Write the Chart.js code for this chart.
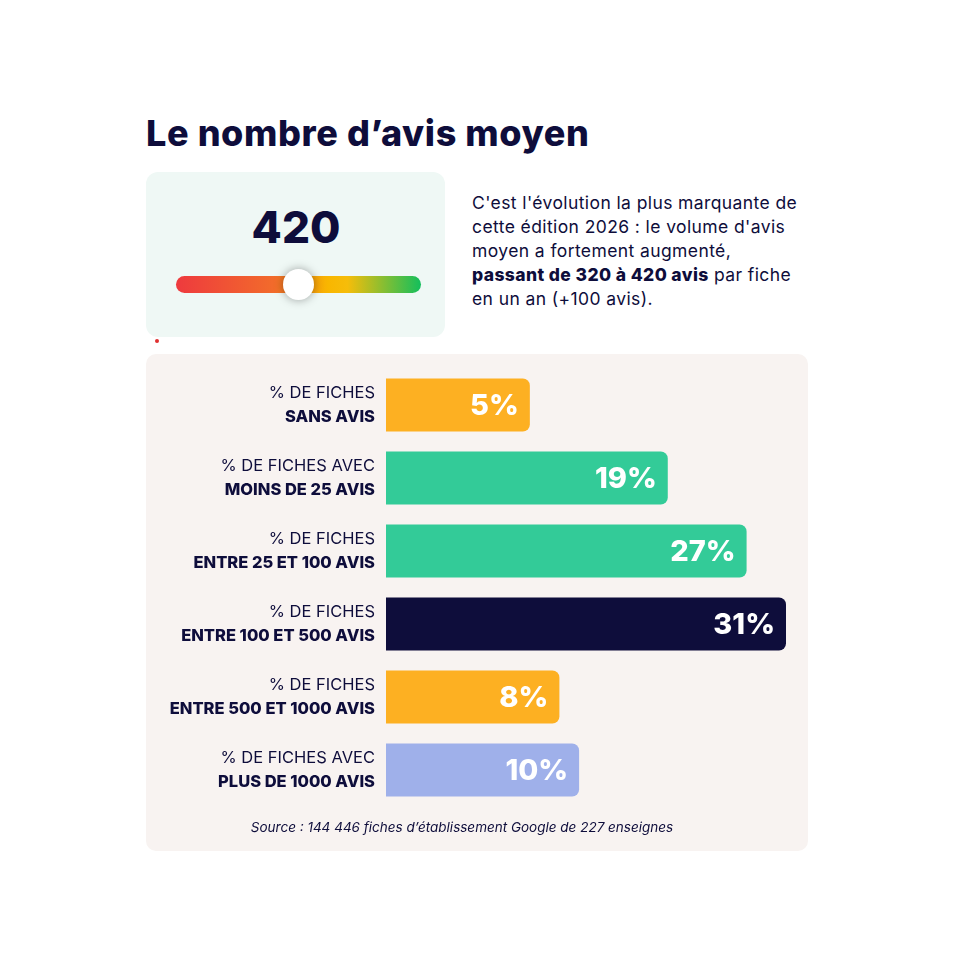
<!DOCTYPE html>
<html lang="fr">
<head>
<meta charset="utf-8">
<script src="https://cdn.jsdelivr.net/npm/chart.js@4.4.1/dist/chart.umd.min.js"></script>
<style>
  body { margin: 0; background: #fff; font-family: Inter, "Noto Sans", sans-serif; color: #0e0d3b; }
  #page { position: relative; width: 960px; height: 960px; }
  h1 { position: absolute; left: 146px; top: 111px; margin: 0; font-size: 36px; font-weight: 800; letter-spacing: 0.6px; }
  #gaugeBox { position: absolute; left: 146px; top: 172px; width: 299px; height: 165px; background: #eff8f5; border-radius: 12px; }
  #bigNum { position: absolute; left: 146px; width: 300px; top: 200px; text-align: center; font-size: 44px; font-weight: 800; }
  #gauge { position: absolute; left: 176px; top: 276px; width: 245px; height: 17px; border-radius: 9px;
    background: linear-gradient(90deg, #ee3a3e 0%, #f26b2b 40%, #f9b600 62%, #f6bd0a 70%, #13bf5c 100%); }
  #knob { position: absolute; left: 283px; top: 269px; width: 31px; height: 31px; border-radius: 50%; background: #fff;
    box-shadow: 0 0 10px rgba(0,0,0,0.35); }
  #dot { position: absolute; left: 155px; top: 339px; width: 4px; height: 4px; border-radius: 50%; background: #e03030; }
  #desc { position: absolute; left: 472px; top: 191px; width: 400px; font-size: 17.5px; line-height: 24px; letter-spacing: 0.4px; }
  #desc b { font-weight: 800; }
  #panel { position: absolute; left: 146px; top: 354px; width: 662px; height: 497px; background: #f8f3f1; border-radius: 10px; }
  #source { position: absolute; left: 116px; width: 692px; top: 819px; text-align: center; font-size: 13.5px; font-style: italic; }
</style>
</head>
<body>
<div id="page">
  <h1>Le nombre d’avis moyen</h1>
  <div id="gaugeBox"></div>
  <div id="bigNum">420</div>
  <div id="gauge"></div>
  <div id="knob"></div>
  <div id="dot"></div>
  <div id="desc">C'est l'évolution la plus marquante de<br>cette édition 2026 : le volume d'avis<br>moyen a fortement augmenté,<br><b>passant de 320 à 420 avis</b> par fiche<br>en un an (+100 avis).</div>
  <div id="panel"><canvas id="chart" width="662" height="497"></canvas></div>
  <div id="source">Source : 144 446 fiches d’établissement Google de 227 enseignes</div>
</div>
<script>
// categories (two lines: normal + bold)
const labelTop = ["% DE FICHES", "% DE FICHES AVEC", "% DE FICHES", "% DE FICHES", "% DE FICHES", "% DE FICHES AVEC"];
const labelBold = ["SANS AVIS", "MOINS DE 25 AVIS", "ENTRE 25 ET 100 AVIS", "ENTRE 100 ET 500 AVIS", "ENTRE 500 ET 1000 AVIS", "PLUS DE 1000 AVIS"];
const shares = [5, 19, 27, 31, 8, 10];
const barColors = ["#fdb022", "#33cb98", "#33cb98", "#0e0d3b", "#fdb022", "#9fb0ea"];
const axisMin = -9.6;
const axisMax = 31;

const labelsPlugin = {
  id: 'labels',
  afterDatasetsDraw(chart) {
    const ctx = chart.ctx;
    const y = chart.scales.y;
    const meta = chart.getDatasetMeta(0);
    ctx.save();
    ctx.textAlign = 'right';
    ctx.textBaseline = 'middle';
    for (let i = 0; i < shares.length; i++) {
      const cy = y.getPixelForValue(i);
      ctx.fillStyle = '#0e0d3b';
      ctx.font = '400 16.5px Inter, sans-serif';
      ctx.fillText(labelTop[i], chart.chartArea.left - 11, cy - 12);
      ctx.font = '800 16.5px Inter, sans-serif';
      ctx.fillText(labelBold[i], chart.chartArea.left - 11, cy + 12);
      // value inside bar
      const bar = meta.data[i];
      ctx.fillStyle = '#fff';
      ctx.font = '800 29px Inter, sans-serif';
      ctx.fillText(shares[i] + '%', bar.x - 11, cy + 1);
    }
    ctx.restore();
  }
};

new Chart(document.getElementById('chart'), {
  type: 'bar',
  data: {
    labels: labelBold,
    datasets: [{
      data: shares,
      base: axisMin,
      backgroundColor: barColors,
      borderRadius: { topRight: 7, bottomRight: 7, topLeft: 0, bottomLeft: 0 },
      borderSkipped: false,
      categoryPercentage: 1,
      barPercentage: 0.726
    }]
  },
  options: {
    indexAxis: 'y',
    responsive: false,
    animation: false,
    layout: { padding: { left: 240, right: 22, top: 14.5, bottom: 44.5 } },
    plugins: { legend: { display: false }, tooltip: { enabled: false } },
    scales: {
      x: { display: false, min: axisMin, max: axisMax },
      y: { display: false }
    }
  },
  plugins: [labelsPlugin]
});
</script>
</body>
</html>
